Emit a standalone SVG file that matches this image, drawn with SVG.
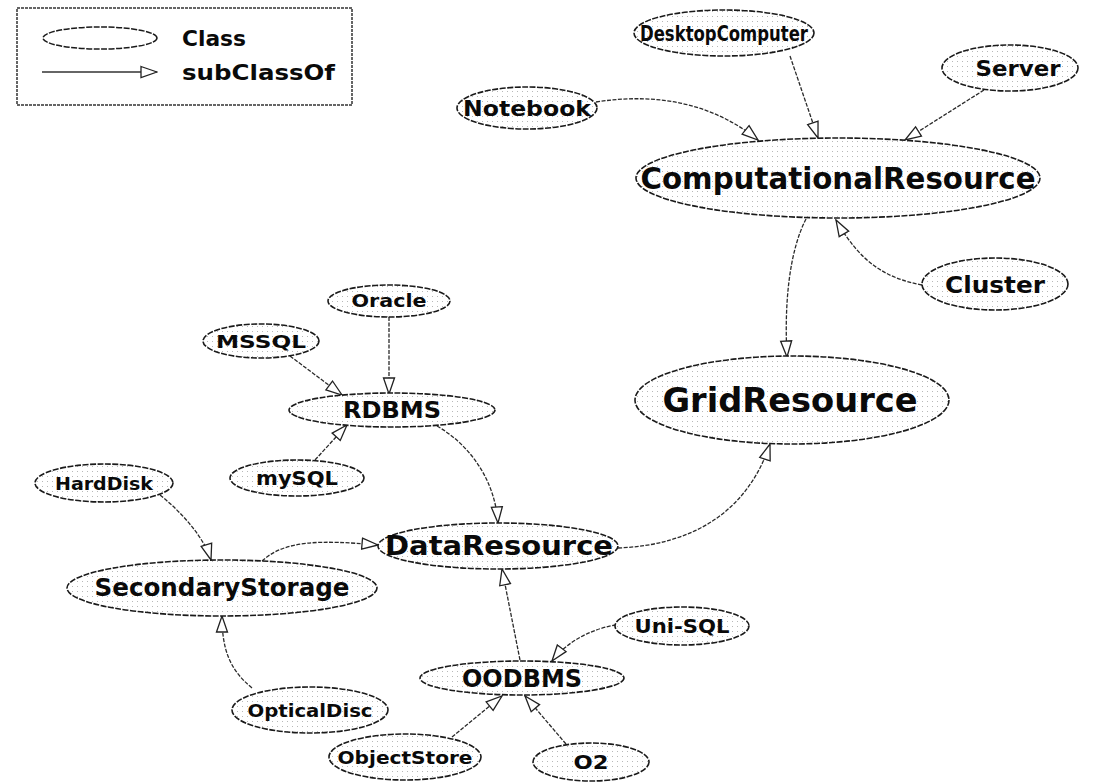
<svg xmlns="http://www.w3.org/2000/svg" width="1119" height="783" viewBox="0 0 1119 783">
  <style>
    .node ellipse { fill: url(#stipple); stroke: #1a1a1a; stroke-width: 1.6; stroke-dasharray: 6 1.5; }
    .node text { font-family: "DejaVu Sans", "Liberation Sans", sans-serif; font-weight: bold; fill: #0a0a0a; text-anchor: middle; }
    .edge { fill: none; stroke: #2a2a2a; stroke-width: 1.3; stroke-dasharray: 4 1.5; marker-end: url(#open); }
    .legend-text { font-family: "DejaVu Sans", "Liberation Sans", sans-serif; font-weight: bold; font-size: 21px; fill: #0a0a0a; }
  </style>
  <defs>
    <!-- sparse grey dots used as the class fill -->
    <pattern id="stipple" width="5" height="5" patternUnits="userSpaceOnUse">
      <rect width="5" height="5" fill="#fff"/>
      <rect x="2" y="1" width="1" height="1" fill="#b8b8b8"/>
    </pattern>
    <!-- hollow triangle for subClassOf -->
    <marker id="open" viewBox="0 0 18 14" refX="17" refY="7" markerWidth="18" markerHeight="14" markerUnits="userSpaceOnUse" orient="auto">
      <path d="M1,1.5 L17,7 L1,12.5 Z" fill="#fff" stroke="#222" stroke-width="1.3"/>
    </marker>
  </defs>
  <rect width="1119" height="783" fill="#fff"/>

  <!-- legend -->
  <g id="legend">
    <rect x="17" y="8" width="335" height="97" fill="#fff" stroke="#333" stroke-width="1.5" stroke-dasharray="3 1"/>
    <ellipse cx="100" cy="38" rx="57" ry="11" fill="#fff" stroke="#1a1a1a" stroke-width="1.5" stroke-dasharray="6 1.5"/>
    <text class="legend-text" x="182" y="46" textLength="64" lengthAdjust="spacingAndGlyphs">Class</text>
    <path d="M42,72 L157,72" fill="none" stroke="#333" stroke-width="1.3" marker-end="url(#open)"/>
    <text class="legend-text" x="182" y="80" textLength="153" lengthAdjust="spacingAndGlyphs">subClassOf</text>
  </g>

  <!-- subClassOf connectors -->
  <g id="connectors">
    <path class="edge" d="M596,102 C660,92 715,105 758,140"/>
    <path class="edge" d="M790,56 L818,138"/>
    <path class="edge" d="M984,90 L905,140"/>
    <path class="edge" d="M922,285 C885,278 860,262 836,220"/>
    <path class="edge" d="M806,219 C790,250 784,300 787,357"/>
    <path class="edge" d="M389,317 L389,394"/>
    <path class="edge" d="M290,356 L342,395"/>
    <path class="edge" d="M315,460 L347,425"/>
    <path class="edge" d="M437,426 C470,445 495,480 498,523"/>
    <path class="edge" d="M160,495 C185,515 205,540 211,560"/>
    <path class="edge" d="M262,561 C285,540 320,540 378,545"/>
    <path class="edge" d="M252,688 C230,670 222,650 222,616"/>
    <path class="edge" d="M618,548 C695,545 748,510 770,444"/>
    <path class="edge" d="M520,660 L502,569"/>
    <path class="edge" d="M616,625 C595,628 568,640 552,661"/>
    <path class="edge" d="M452,737 L502,696"/>
    <path class="edge" d="M566,744 L525,696"/>
  </g>

  <g id="n-notebook" class="node">
    <ellipse cx="527" cy="108" rx="70" ry="21"/>
    <text x="527" y="116" font-size="22" textLength="128" lengthAdjust="spacingAndGlyphs">Notebook</text>
  </g>
  <g id="n-desktop" class="node">
    <ellipse cx="724" cy="33" rx="90" ry="23"/>
    <text x="724" y="41" font-size="22" textLength="168" lengthAdjust="spacingAndGlyphs">DesktopComputer</text>
  </g>
  <g id="n-server" class="node">
    <ellipse cx="1010" cy="68" rx="68" ry="23"/>
    <text x="1018" y="76" font-size="22" textLength="85" lengthAdjust="spacingAndGlyphs">Server</text>
  </g>
  <g id="n-computational" class="node">
    <ellipse cx="838" cy="178" rx="202" ry="40"/>
    <text x="838" y="189" font-size="31" textLength="395" lengthAdjust="spacingAndGlyphs">ComputationalResource</text>
  </g>
  <g id="n-cluster" class="node">
    <ellipse cx="995" cy="284" rx="73" ry="26"/>
    <text x="995" y="293" font-size="23" textLength="100" lengthAdjust="spacingAndGlyphs">Cluster</text>
  </g>
  <g id="n-grid" class="node">
    <ellipse cx="792" cy="400" rx="157" ry="44"/>
    <text x="790" y="412" font-size="33" textLength="255" lengthAdjust="spacingAndGlyphs">GridResource</text>
  </g>
  <g id="n-oracle" class="node">
    <ellipse cx="389" cy="301" rx="61" ry="16"/>
    <text x="389" y="307" font-size="18" textLength="75" lengthAdjust="spacingAndGlyphs">Oracle</text>
  </g>
  <g id="n-mssql" class="node">
    <ellipse cx="261" cy="341" rx="58" ry="17"/>
    <text x="261" y="348" font-size="18" textLength="90" lengthAdjust="spacingAndGlyphs">MSSQL</text>
  </g>
  <g id="n-rdbms" class="node">
    <ellipse cx="392" cy="410" rx="103" ry="17"/>
    <text x="392" y="418" font-size="23" textLength="98" lengthAdjust="spacingAndGlyphs">RDBMS</text>
  </g>
  <g id="n-mysql" class="node">
    <ellipse cx="297" cy="478" rx="67" ry="18"/>
    <text x="297" y="485" font-size="19" textLength="82" lengthAdjust="spacingAndGlyphs">mySQL</text>
  </g>
  <g id="n-harddisk" class="node">
    <ellipse cx="104" cy="483" rx="69" ry="19"/>
    <text x="104" y="490" font-size="18" textLength="98" lengthAdjust="spacingAndGlyphs">HardDisk</text>
  </g>
  <g id="n-data" class="node">
    <ellipse cx="498" cy="546" rx="120" ry="23"/>
    <text x="499" y="555" font-size="27" textLength="228" lengthAdjust="spacingAndGlyphs">DataResource</text>
  </g>
  <g id="n-secondary" class="node">
    <ellipse cx="222" cy="588" rx="155" ry="28"/>
    <text x="222" y="596" font-size="24" textLength="255" lengthAdjust="spacingAndGlyphs">SecondaryStorage</text>
  </g>
  <g id="n-oodbms" class="node">
    <ellipse cx="522" cy="678" rx="102" ry="17"/>
    <text x="522" y="687" font-size="25" textLength="120" lengthAdjust="spacingAndGlyphs">OODBMS</text>
  </g>
  <g id="n-unisql" class="node">
    <ellipse cx="682" cy="626" rx="67" ry="19"/>
    <text x="682" y="633" font-size="19" textLength="95" lengthAdjust="spacingAndGlyphs">Uni-SQL</text>
  </g>
  <g id="n-optical" class="node">
    <ellipse cx="310" cy="710" rx="78" ry="23"/>
    <text x="310" y="717" font-size="18" textLength="125" lengthAdjust="spacingAndGlyphs">OpticalDisc</text>
  </g>
  <g id="n-objectstore" class="node">
    <ellipse cx="405" cy="757" rx="76" ry="23"/>
    <text x="405" y="764" font-size="18" textLength="135" lengthAdjust="spacingAndGlyphs">ObjectStore</text>
  </g>
  <g id="n-o2" class="node">
    <ellipse cx="591" cy="762" rx="58" ry="19"/>
    <text x="591" y="769" font-size="20" textLength="35" lengthAdjust="spacingAndGlyphs">O2</text>
  </g>
</svg>
